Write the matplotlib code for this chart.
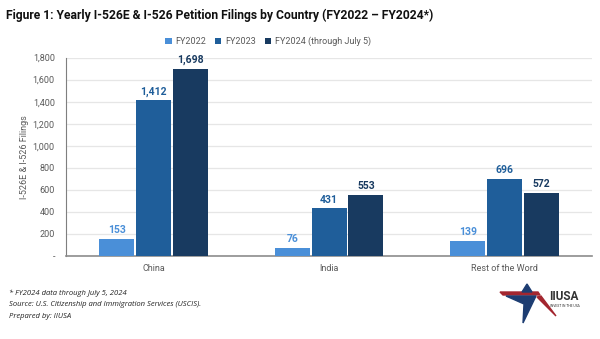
import matplotlib.pyplot as plt
import numpy as np
from matplotlib.patches import Polygon
from matplotlib.ticker import FuncFormatter

countries = ["China", "India", "Rest of the Word"]
series_names = ["FY2022", "FY2023", "FY2024 (through July 5)"]
fy2022 = [153, 76, 139]
fy2023 = [1412, 431, 696]
fy2024 = [1698, 553, 572]
colors = ["#4a8fd8", "#1f5e9a", "#183a60"]

plt.rcParams["font.family"] = ["Roboto", "DejaVu Sans"]

fig = plt.figure(figsize=(6, 3.39), dpi=100)
ax = fig.add_axes([0.11, 0.245, 0.877, 0.585])

x = np.arange(len(countries))
width = 0.2
offsets = [-0.21, 0, 0.21]
for vals, name, col, off in zip([fy2022, fy2023, fy2024], series_names, colors, offsets):
    bars = ax.bar(x + off, vals, width, color=col, label=name, zorder=3)
    for b, v in zip(bars, vals):
        ax.text(b.get_x() + b.get_width() / 2, v + 35, f"{v:,}", ha="center", va="bottom",
                fontsize=7.5, fontweight="bold", color=col)

ax.set_xlim(-0.5, 2.5)
ax.set_ylim(0, 1800)
ax.set_yticks(np.arange(0, 1801, 200))
ax.yaxis.set_major_formatter(FuncFormatter(lambda v, p: "-" if v == 0 else f"{int(v):,}"))
ax.set_xticks(x)
ax.set_xticklabels(countries)
ax.tick_params(axis="both", length=0, labelsize=6.5, colors="#595959")
ax.tick_params(axis="x", pad=6)
ax.tick_params(axis="y", pad=8)
ax.grid(axis="y", color="#e6e6e6", linewidth=0.9, zorder=0)
for s in ["top", "right"]:
    ax.spines[s].set_visible(False)
ax.spines["left"].set_color("#7f7f7f")
ax.spines["bottom"].set_color("#8c8c8c")
ax.spines["bottom"].set_linewidth(1.2)
ax.set_ylabel("I-526E & I-526 Filings", fontsize=6.5, color="#595959", labelpad=3)

ax.legend(loc="lower center", bbox_to_anchor=(0.384, 1.03), ncol=3, frameon=False,
          fontsize=6.5, labelcolor="#595959", handlelength=0.7, handleheight=0.7,
          handletextpad=0.4, columnspacing=1.0, borderaxespad=0.2)

fig.text(0.01, 0.955, "Figure 1: Yearly I-526E & I-526 Petition Filings by Country (FY2022 \u2013 FY2024*)",
         fontsize=8.7, fontweight="bold", color="#111111", va="center")

notes = ["* FY2024 data through July 5, 2024",
         "Source: U.S. Citizenship and Immigration Services (USCIS).",
         "Prepared by: IIUSA"]
for i, t in enumerate(notes):
    fig.text(0.015, 0.135 - i * 0.034, t, fontsize=5.5, style="italic", color="#222222",
             va="center", family=["Open Sans", "DejaVu Sans"])

# logo
def px(pts):
    return [(a / 600, 1 - b / 339) for a, b in pts]

red = "#a3262f"
navy = "#1d3d72"
fig.patches.append(Polygon(px([(500, 292), (538, 292), (540, 295), (503, 295)]),
                           closed=True, color=red, transform=fig.transFigure))
fig.patches.append(Polygon(px([(527, 284), (532, 292), (522, 292)]),
                           closed=True, color=navy, transform=fig.transFigure))
fig.patches.append(Polygon(px([(506, 296), (536, 296), (523, 323), (524, 304)]),
                           closed=True, color=navy, transform=fig.transFigure))
fig.patches.append(Polygon(px([(537, 297), (541, 296), (556, 316)]),
                           closed=True, color=red, transform=fig.transFigure))
fig.text(549 / 600, 1 - 296 / 339, "IIUSA", fontsize=8.5, fontweight="bold", color="#333333",
         va="center")
fig.text(550 / 600, 1 - 306 / 339, "INVEST IN THE USA", fontsize=2.4, color="#333333", va="center")

fig.savefig("out.png", dpi=100)
